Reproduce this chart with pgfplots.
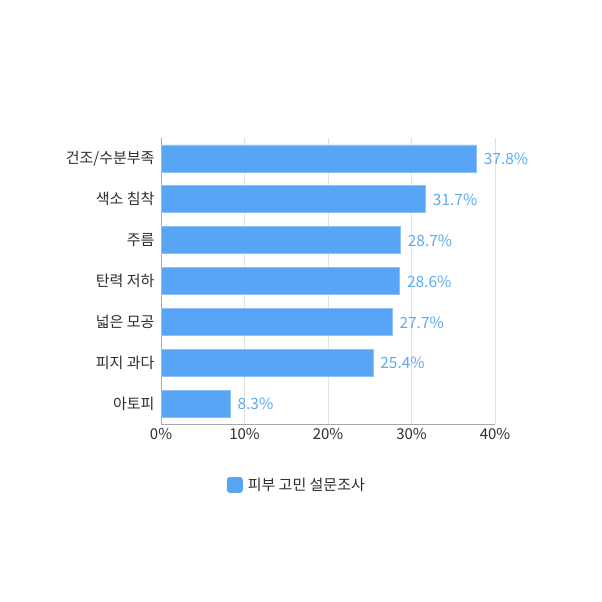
\documentclass[border=0pt]{standalone}
\usepackage{pgfplots}
\pgfplotsset{compat=1.18}
\usepackage{fontspec}
\setmainfont{Noto Sans CJK KR}
\definecolor{barblue}{HTML}{57A5F4}
\definecolor{baredge}{HTML}{8CC2F7}
\definecolor{lblblue}{HTML}{5DAAF5}
\definecolor{txt}{HTML}{2E2E2E}
\definecolor{gridc}{HTML}{E2E2E2}
\definecolor{axc}{HTML}{A8A8A8}
\begin{document}
\begin{tikzpicture}[x=1pt,y=1pt]
\fill[white] (0,0) rectangle (602,602);
\begin{axis}[
  at={(161pt,178pt)}, anchor=south west,
  scale only axis, width=334pt, height=286pt,
  xbar, bar width=27pt,
  xmin=0, xmax=40,
  ymin=-0.5, ymax=6.5, y dir=reverse,
  xtick={0,10,20,30,40},
  xticklabels={0\%,10\%,20\%,30\%,40\%},
  ytick={0,1,2,3,4,5,6},
  yticklabels={건조/수분부족,색소 침착,주름,탄력 저하,넓은 모공,피지 과다,아토피},
  major tick length=0pt,
  xmajorgrids, grid style={gridc, line width=0.8pt},
  axis x line*=bottom, axis y line*=left,
  axis line style={axc, line width=0.9pt, -},
  tick label style={font=\fontsize{15}{18}\selectfont, text=txt},
  /pgf/number format/assume math mode=true,
  xticklabel style={yshift=-1pt},
  yticklabel style={xshift=-3pt},
  nodes near coords={\pgfmathprintnumber[fixed,precision=1,fixed zerofill]{\pgfplotspointmeta}\%},
  every node near coord/.append style={font=\fontsize{15.5}{18}\selectfont, text=lblblue, anchor=west, xshift=3.5pt, yshift=-0.5pt},
  point meta=explicit,
  legend style={at={(0.407,-0.213)}, anchor=center, draw=none, fill=none,
    font=\fontsize{15}{18}\selectfont, text=txt, legend cell align=left,
    /tikz/every even column/.append style={column sep=4pt}},
  legend image code/.code={\draw[barblue, fill=barblue, rounded corners=2.5pt] (0pt,-7.5pt) rectangle (15pt,7.5pt);},
]
\addplot[fill=barblue, draw=baredge, line width=0.8pt] coordinates {
 (37.8,0) [37.8]
 (31.7,1) [31.7]
 (28.7,2) [28.7]
 (28.6,3) [28.6]
 (27.7,4) [27.7]
 (25.4,5) [25.4]
 (8.3,6) [8.3]
};
\addlegendentry{\hspace{3pt}피부 고민 설문조사}
\end{axis}
\end{tikzpicture}
\end{document}
